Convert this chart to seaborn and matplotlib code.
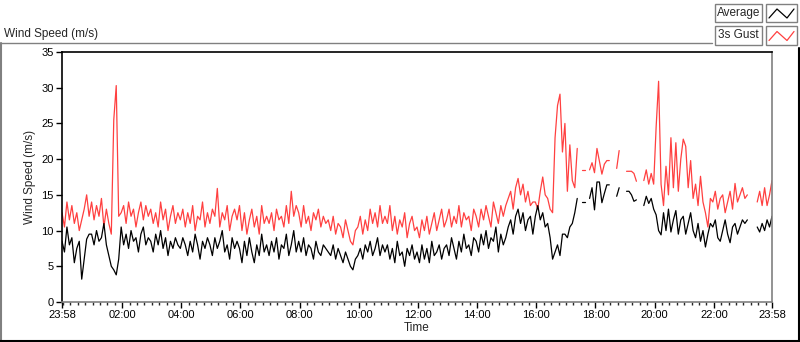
import numpy as np
import pandas as pd
import matplotlib.pyplot as plt
import matplotlib.dates as mdates
from matplotlib.lines import Line2D
from matplotlib.patches import Rectangle
import seaborn as sns

# 5 minute samples from 23:58 to 23:58 next day, one row per hour (nan = no data)
avg_speed = [
    8.5, 7.0, 10.5, 8.0, 9.0, 5.5, 7.5, 8.5, 3.2, 6.0, 8.8, 9.5,
    9.5, 8.0, 10.0, 8.5, 9.0, 11.0, 8.0, 6.5, 5.0, 4.5, 3.8, 6.0,
    10.5, 8.0, 9.5, 7.5, 10.0, 8.5, 9.0, 7.0, 9.5, 10.5, 8.0, 9.0,
    8.5, 7.0, 9.5, 8.0, 10.0, 7.5, 9.0, 6.5, 8.5, 7.5, 9.0, 8.0,
    7.5, 9.0, 8.0, 6.5, 8.5, 7.0, 9.5, 8.0, 6.0, 8.5, 7.5, 9.0,
    8.0, 6.5, 9.0, 7.5, 8.5, 10.0, 7.0, 8.0, 6.0, 9.0, 7.5, 8.5,
    7.5, 5.5, 8.5, 6.5, 9.0, 7.0, 5.5, 8.0, 6.5, 9.5, 7.0, 8.0,
    6.5, 8.5, 7.0, 9.0, 6.0, 8.0, 7.5, 9.5, 6.5, 8.0, 10.0, 7.0,
    8.5, 7.0, 9.0, 6.5, 8.0, 7.5, 6.0, 8.5, 7.0, 6.5, 8.0, 7.5,
    7.0, 6.5, 8.0, 6.0, 7.5, 6.5, 5.5, 7.0, 6.0, 5.0, 4.5, 6.0,
    6.5, 7.5, 6.0, 8.0, 7.0, 8.5, 6.5, 7.5, 9.0, 6.5, 8.0, 7.0,
    8.0, 6.0, 7.5, 5.5, 8.5, 6.5, 7.0, 5.0, 7.5, 6.5, 8.0, 6.0,
    7.0, 5.5, 8.0, 6.0, 7.5, 5.5, 8.5, 6.5, 7.0, 8.0, 6.0, 7.5,
    8.0, 6.5, 9.0, 7.5, 6.0, 8.5, 7.0, 9.5, 7.5, 8.0, 6.5, 9.0,
    8.5, 7.0, 9.5, 8.0, 10.0, 7.5, 9.0, 8.5, 10.5, 7.0, 9.5, 8.0,
    9.0, 10.5, 11.5, 9.5, 12.0, 13.0, 11.0, 12.5, 10.0, 11.5, 12.0, 9.5,
    12.0, 13.5, 11.5, 12.5, 10.5, 11.0, 9.0, 6.0, 7.0, 8.0, 6.5, 9.5,
    9.5, 9.0, 10.5, 11.0, 12.5, 14.5, np.nan, 14.0, 14.0, np.nan, 14.5, 16.0,
    12.9, 16.8, 16.8, 13.9, 15.2, 16.4, 16.4, np.nan, np.nan, 14.8, 16.0, np.nan,
    np.nan, 15.5, 15.5, 15.0, 14.1, 14.3, np.nan, np.nan, 13.5, 14.8, 13.8, 14.5,
    13.0, 12.2, 10.0, 9.4, 12.5, 10.0, 13.0, 9.8, 11.5, 12.8, 9.5, 11.5,
    12.0, 9.5, 11.0, 12.5, 10.0, 9.0, 11.0, 8.5, 10.0, 7.7, 9.5, 11.0,
    10.5, 11.5, 9.0, 8.5, 10.0, 11.5, 9.5, 8.3, 10.5, 11.0, 9.5, 10.5,
    11.5, 11.0, 11.5, np.nan, np.nan, np.nan, 10.5, 9.8, 11.0, 10.0, 11.5, 10.5, 12.0,
]
gust_speed = [
    12.5, 10.5, 14.0, 11.5, 13.5, 11.0, 12.5, 10.0, 11.5, 13.0, 15.0, 12.0,
    14.0, 11.5, 13.5, 12.0, 14.5, 10.5, 13.0, 11.0, 9.5, 25.5, 30.3, 12.0,
    12.5, 13.5, 11.0, 14.0, 12.0, 13.0, 10.5, 12.5, 14.0, 11.5, 13.5, 12.0,
    13.0, 11.0, 12.5, 10.5, 14.0, 11.5, 13.0, 10.0, 12.0, 13.5, 11.0, 12.5,
    11.5, 13.0, 10.5, 12.5, 11.0, 13.5, 10.0, 12.0, 11.5, 14.0, 10.5, 12.5,
    11.0, 13.0, 12.0, 15.9, 10.5, 12.5, 11.5, 13.5, 10.0, 12.0, 13.0, 11.5,
    13.5, 10.0, 12.5, 9.5, 11.5, 13.0, 10.5, 12.0, 9.5, 13.5, 11.0, 12.0,
    11.0, 12.5, 10.0, 13.0, 11.5, 12.0, 10.5, 13.5, 11.0, 15.5, 12.0, 13.5,
    12.5, 10.5, 13.5, 11.0, 12.0, 10.0, 12.5, 11.5, 13.0, 10.5, 12.0, 11.0,
    11.5, 10.0, 12.0, 9.5, 11.0, 10.5, 9.0, 11.5, 10.0, 8.5, 8.0, 10.0,
    10.5, 12.0, 9.5, 11.5, 10.0, 13.0, 11.0, 12.5, 10.5, 13.5, 11.0, 12.0,
    11.0, 13.5, 10.0, 12.0, 9.5, 11.5, 10.5, 12.5, 9.0, 11.0, 12.0, 10.0,
    10.5, 9.0, 11.5, 10.0, 12.0, 9.5, 11.0, 12.5, 10.0, 11.5, 13.0, 10.5,
    11.5, 13.0, 10.5, 12.0, 11.0, 13.5, 10.5, 12.5, 11.5, 12.0, 10.0, 13.0,
    12.0, 10.5, 13.0, 11.5, 13.5, 12.0, 10.5, 14.0, 12.5, 11.0, 13.5, 12.0,
    13.5, 14.5, 15.5, 13.0, 16.0, 17.3, 15.0, 16.5, 14.0, 15.5, 13.5, 14.0,
    14.0, 13.0, 15.5, 17.5, 15.0, 14.5, 13.0, 12.5, 23.0, 27.5, 29.1, 21.0,
    25.0, 15.5, 22.0, 17.0, 16.0, 21.5, np.nan, 18.5, 18.5, np.nan, 18.5, 19.5,
    18.1, 21.5, 19.7, 17.9, 19.3, 19.8, 19.8, np.nan, np.nan, 18.7, 21.2, np.nan,
    np.nan, 18.3, 18.3, 18.3, 18.0, 16.9, np.nan, np.nan, 17.0, 18.5, 16.5, 18.0,
    16.5, 24.5, 30.9, 16.5, 13.5, 19.0, 15.0, 23.0, 16.0, 22.3, 15.5, 20.0,
    22.8, 21.8, 16.0, 19.8, 14.5, 16.5, 13.5, 17.6, 14.0, 12.5, 10.5, 14.5,
    14.0, 15.5, 13.0, 14.5, 15.0, 12.5, 14.0, 15.5, 13.0, 16.6, 14.0, 15.0,
    16.0, 14.5, 15.0, np.nan, np.nan, np.nan, 14.0, 15.5, 13.5, 16.0, 13.5, 15.0, 17.0,
]
start = pd.Timestamp("2014-03-10 23:58")
times = pd.date_range(start, periods=len(avg_speed), freq="5min")
tick_labels = ["23:58", "02:00", "04:00", "06:00", "08:00", "10:00", "12:00",
               "14:00", "16:00", "18:00", "20:00", "22:00", "23:58"]

df = pd.DataFrame({"time": times, "Average": avg_speed, "3s Gust": gust_speed})

sns.set_style("white")
plt.rcParams["font.family"] = ["Liberation Sans", "DejaVu Sans"]

fig = plt.figure(figsize=(8, 3.42), dpi=100)
ax = fig.add_axes([62 / 800, 1 - 302 / 342, 710 / 800, 250 / 342])

colors = {"Average": "black", "3s Gust": "#ff4040"}
for name in ["3s Gust", "Average"]:
    sub = df[["time", name]].copy()
    # segment id so missing data leaves gaps in the line
    sub["seg"] = sub[name].isna().cumsum()
    sub = sub.dropna()
    sns.lineplot(data=sub, x="time", y=name, units="seg", estimator=None,
                 color=colors[name], lw=0.9, ax=ax)

end = times[-1]
ticks = [start] + [start.normalize() + pd.Timedelta(days=1, hours=h) for h in range(2, 24, 2)] + [end]
ax.set_xlim(start, end)
ax.set_xticks(ticks)
ax.set_xticklabels(tick_labels)
ax.xaxis.set_minor_locator(mdates.MinuteLocator(byminute=[0, 15, 30, 45]))
ax.set_ylim(0, 35)
ax.set_yticks(range(0, 36, 5))

ax.tick_params(axis="both", which="major", direction="out", length=4, width=1,
               labelsize=8, colors="black", pad=2, bottom=True, left=True)
ax.tick_params(axis="x", which="minor", direction="out", length=2.5, width=1, bottom=True)
ax.set_xlabel("Time", fontsize=8.5, labelpad=1)
ax.set_ylabel("Wind Speed (m/s)", fontsize=8.5, labelpad=4)

for side in ["left", "top"]:
    ax.spines[side].set_color("black")
for side in ["right", "bottom"]:
    ax.spines[side].set_color("#808080")
for side in ax.spines:
    ax.spines[side].set_linewidth(1.2)

# panel frame and title
fig.add_artist(Line2D([0, 712 / 800], [1 - 42.5 / 342] * 2, color="#808080", lw=1))
fig.add_artist(Line2D([1 / 800, 1 / 800], [1 - 42.5 / 342, 0], color="#808080", lw=1.5))
fig.add_artist(Line2D([0, 1], [1 - 341 / 342] * 2, color="black", lw=1.5))
fig.add_artist(Line2D([799 / 800] * 2, [1 - 48 / 342, 0], color="black", lw=1.5))
fig.text(4 / 800, 1 - 37 / 342, "Wind Speed (m/s)", fontsize=8.5, va="baseline")

# legend boxes
for i, name in enumerate(["Average", "3s Gust"]):
    y0 = 1 - (22 + 22.5 * i) / 342
    fig.add_artist(Rectangle((715 / 800, y0), 47 / 800, 18 / 342, transform=fig.transFigure,
                             facecolor="white", edgecolor="#808080", lw=1))
    fig.text(738.5 / 800, y0 + 9 / 342, name, fontsize=8.5, ha="center", va="center")
    fig.add_artist(Rectangle((766 / 800, y0), 31 / 800, 18 / 342, transform=fig.transFigure,
                             facecolor="white", edgecolor="#808080", lw=1))
    fig.add_artist(Line2D(np.array([769, 777, 787, 794]) / 800,
                          y0 + np.array([4, 13, 4, 13]) / 342,
                          color=colors[name], lw=0.9))

fig.savefig("out.png", dpi=100)
